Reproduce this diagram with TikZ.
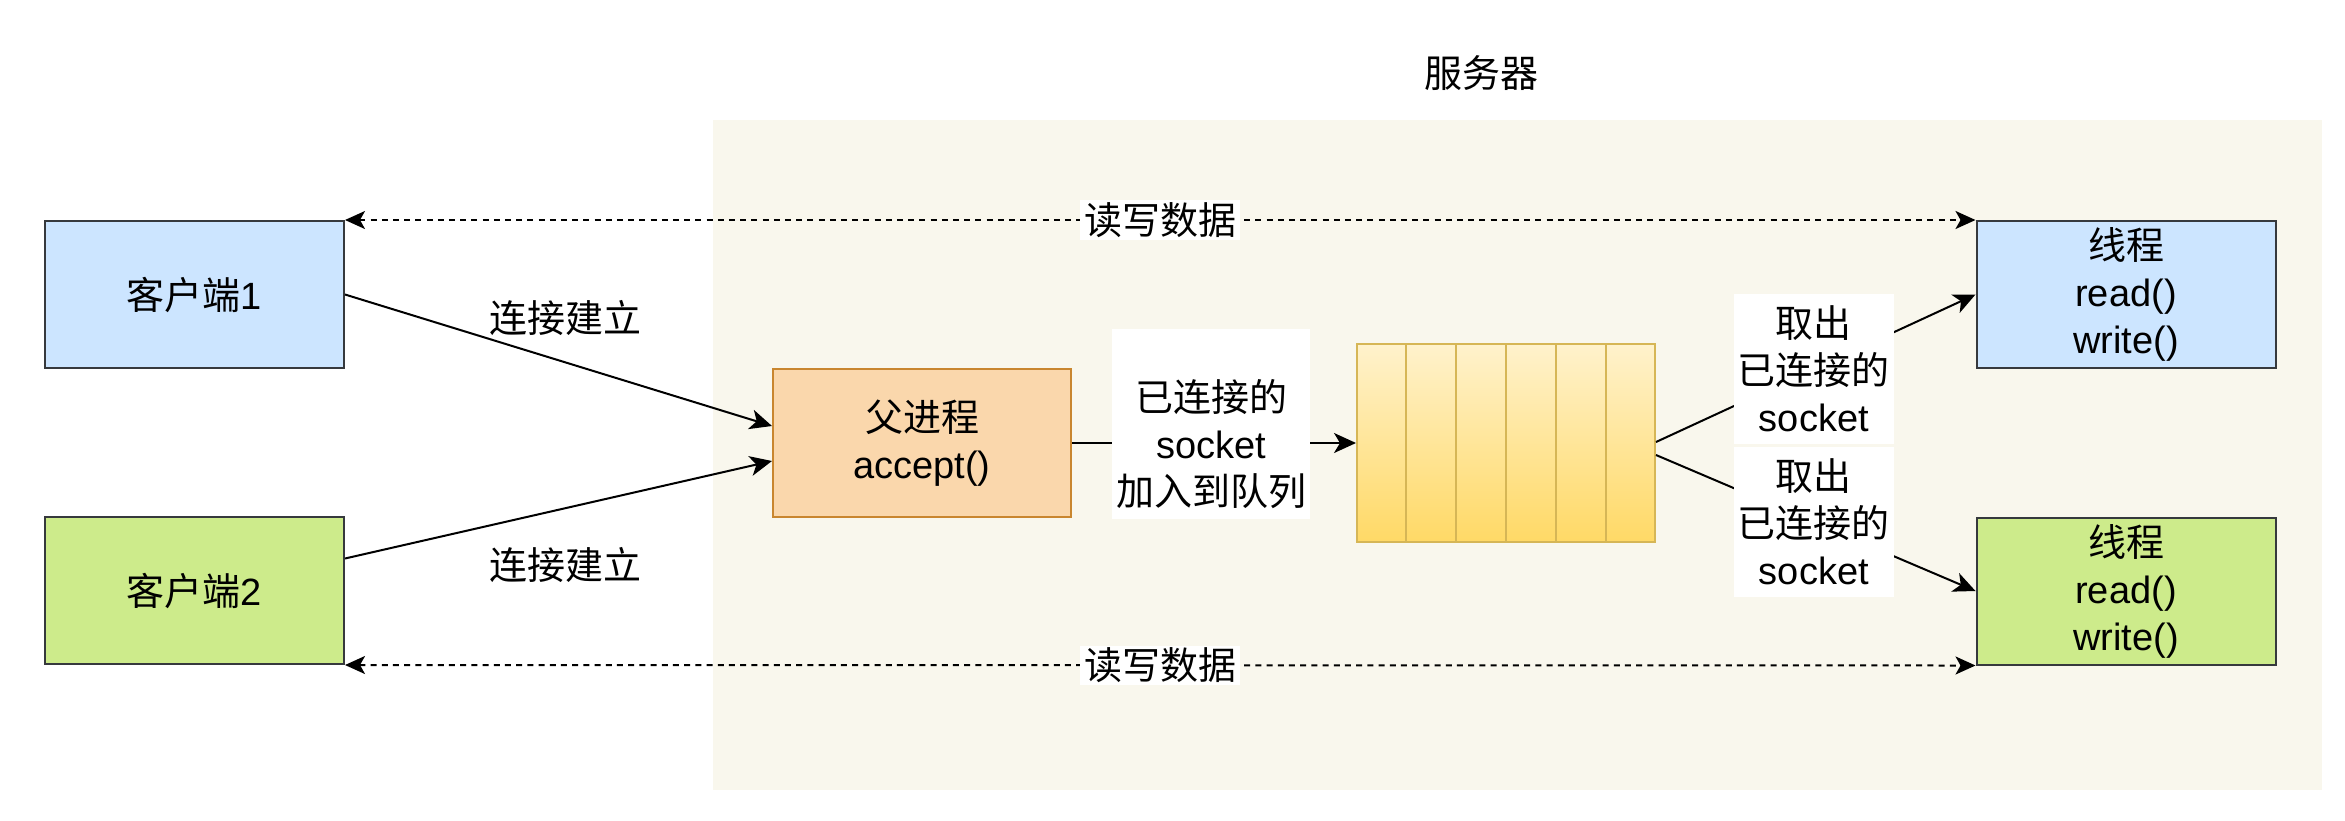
\documentclass[tikz,border=0pt]{standalone}
\usepackage{fontspec}
\setmainfont{Liberation Sans}
\newfontfamily\cjk{Noto Sans CJK SC}
\usetikzlibrary{arrows.meta,calc}

\definecolor{bluefill}{HTML}{CCE5FF}
\definecolor{greenfill}{HTML}{CDEB8B}
\definecolor{orangefill}{HTML}{FAD7AC}
\definecolor{orangeline}{HTML}{C9862F}
\definecolor{queuetop}{HTML}{FFF2CC}
\definecolor{queuebot}{HTML}{FFD966}
\definecolor{queueline}{HTML}{D6B656}
\definecolor{serverbg}{HTML}{F9F7ED}
\definecolor{boxline}{HTML}{36393D}

\newcommand\zh[1]{{\cjk #1}}

\tikzset{
  box/.style={draw=boxline, line width=1pt, minimum width=149.5pt,
    minimum height=73.5pt, inner sep=0pt, align=center},
  link/.style={line width=1pt, -{Stealth[length=11pt,width=10pt,inset=3pt]}},
  dlink/.style={line width=1pt, dash pattern=on 3pt off 2.6pt,
    {Stealth[length=10pt,width=9pt,inset=2.5pt]}-{Stealth[length=10pt,width=9pt,inset=2.5pt]}},
  lbl/.style={fill=white, align=center, inner xsep=2pt, inner ysep=9pt},
  dlbl/.style={fill=white, inner xsep=2pt, inner ysep=1pt},
}

\begin{document}
\begin{tikzpicture}[x=0.5pt, y=-0.5pt, font=\fontsize{19}{23.5}\selectfont]
  \useasboundingbox (0,0) rectangle (2345,820);

  % server area
  \fill[serverbg] (713,120) rectangle (2322,790);
  \node (srv) at (1481,73) {\zh{服务器}};

  % clients
  \node[box, fill=bluefill]  (c1) at (194.5,294.5) {\zh{客户端}1};
  \node[box, fill=greenfill] (c2) at (194.5,590.5) {\zh{客户端}2};

  % parent process
  \node[box, fill=orangefill, draw=orangeline, minimum width=149pt, minimum height=74pt]
    (p) at (922,443) {\zh{父进程}\\accept()};

  % queue of connected sockets
  \node[draw=queueline, line width=1pt, top color=queuetop, bottom color=queuebot,
    minimum width=149pt, minimum height=99pt, inner sep=0pt] (q) at (1506,443) {};
  \foreach \k in {1,...,5}
    \draw[queueline, line width=1pt]
      ($(q.north west)!\k/6!(q.north east)$) -- ($(q.south west)!\k/6!(q.south east)$);

  % worker threads
  \node[box, fill=bluefill]  (t1) at (2126,294.5) {\zh{线程}\\read()\\write()};
  \node[box, fill=greenfill] (t2) at (2126,591)   {\zh{线程}\\read()\\write()};

  % read / write data
  \draw[dlink] (c1.north east) -- (t1.north west)
    node[midway, dlbl] {\zh{读写数据}};
  \draw[dlink] (c2.south east) -- (t2.south west)
    node[midway, dlbl] {\zh{读写数据}};

  % connection setup
  \draw[link] (c1.east) -- ($(p.west)+(0,-17)$);
  \draw[link] ($(c2.east)+(0,-32)$) -- ($(p.west)+(0,18)$);
  \node (e1) at (565,318) {\zh{连接建立}};
  \node (e2) at (565,565) {\zh{连接建立}};

  % enqueue (label box reaches higher above its text)
  \draw[link] (p.east) -- (q.west)
    node[pos=0.49, lbl, inner ysep=5pt, yshift=9.5pt]
      {\rule{0pt}{36pt}\zh{已连接的}\\socket\\\zh{加入到队列}};

  % dequeue to threads
  \draw[link] ($(q.east)+(0,-1)$) -- (t1.west)
    node[pos=0.494, lbl, inner ysep=6pt] {\zh{取出}\\\zh{已连接的}\\socket};
  \draw[link] ($(q.east)+(0,12)$) -- (t2.west)
    node[pos=0.494, lbl, inner ysep=6pt] {\zh{取出}\\\zh{已连接的}\\socket};
\end{tikzpicture}
\end{document}
